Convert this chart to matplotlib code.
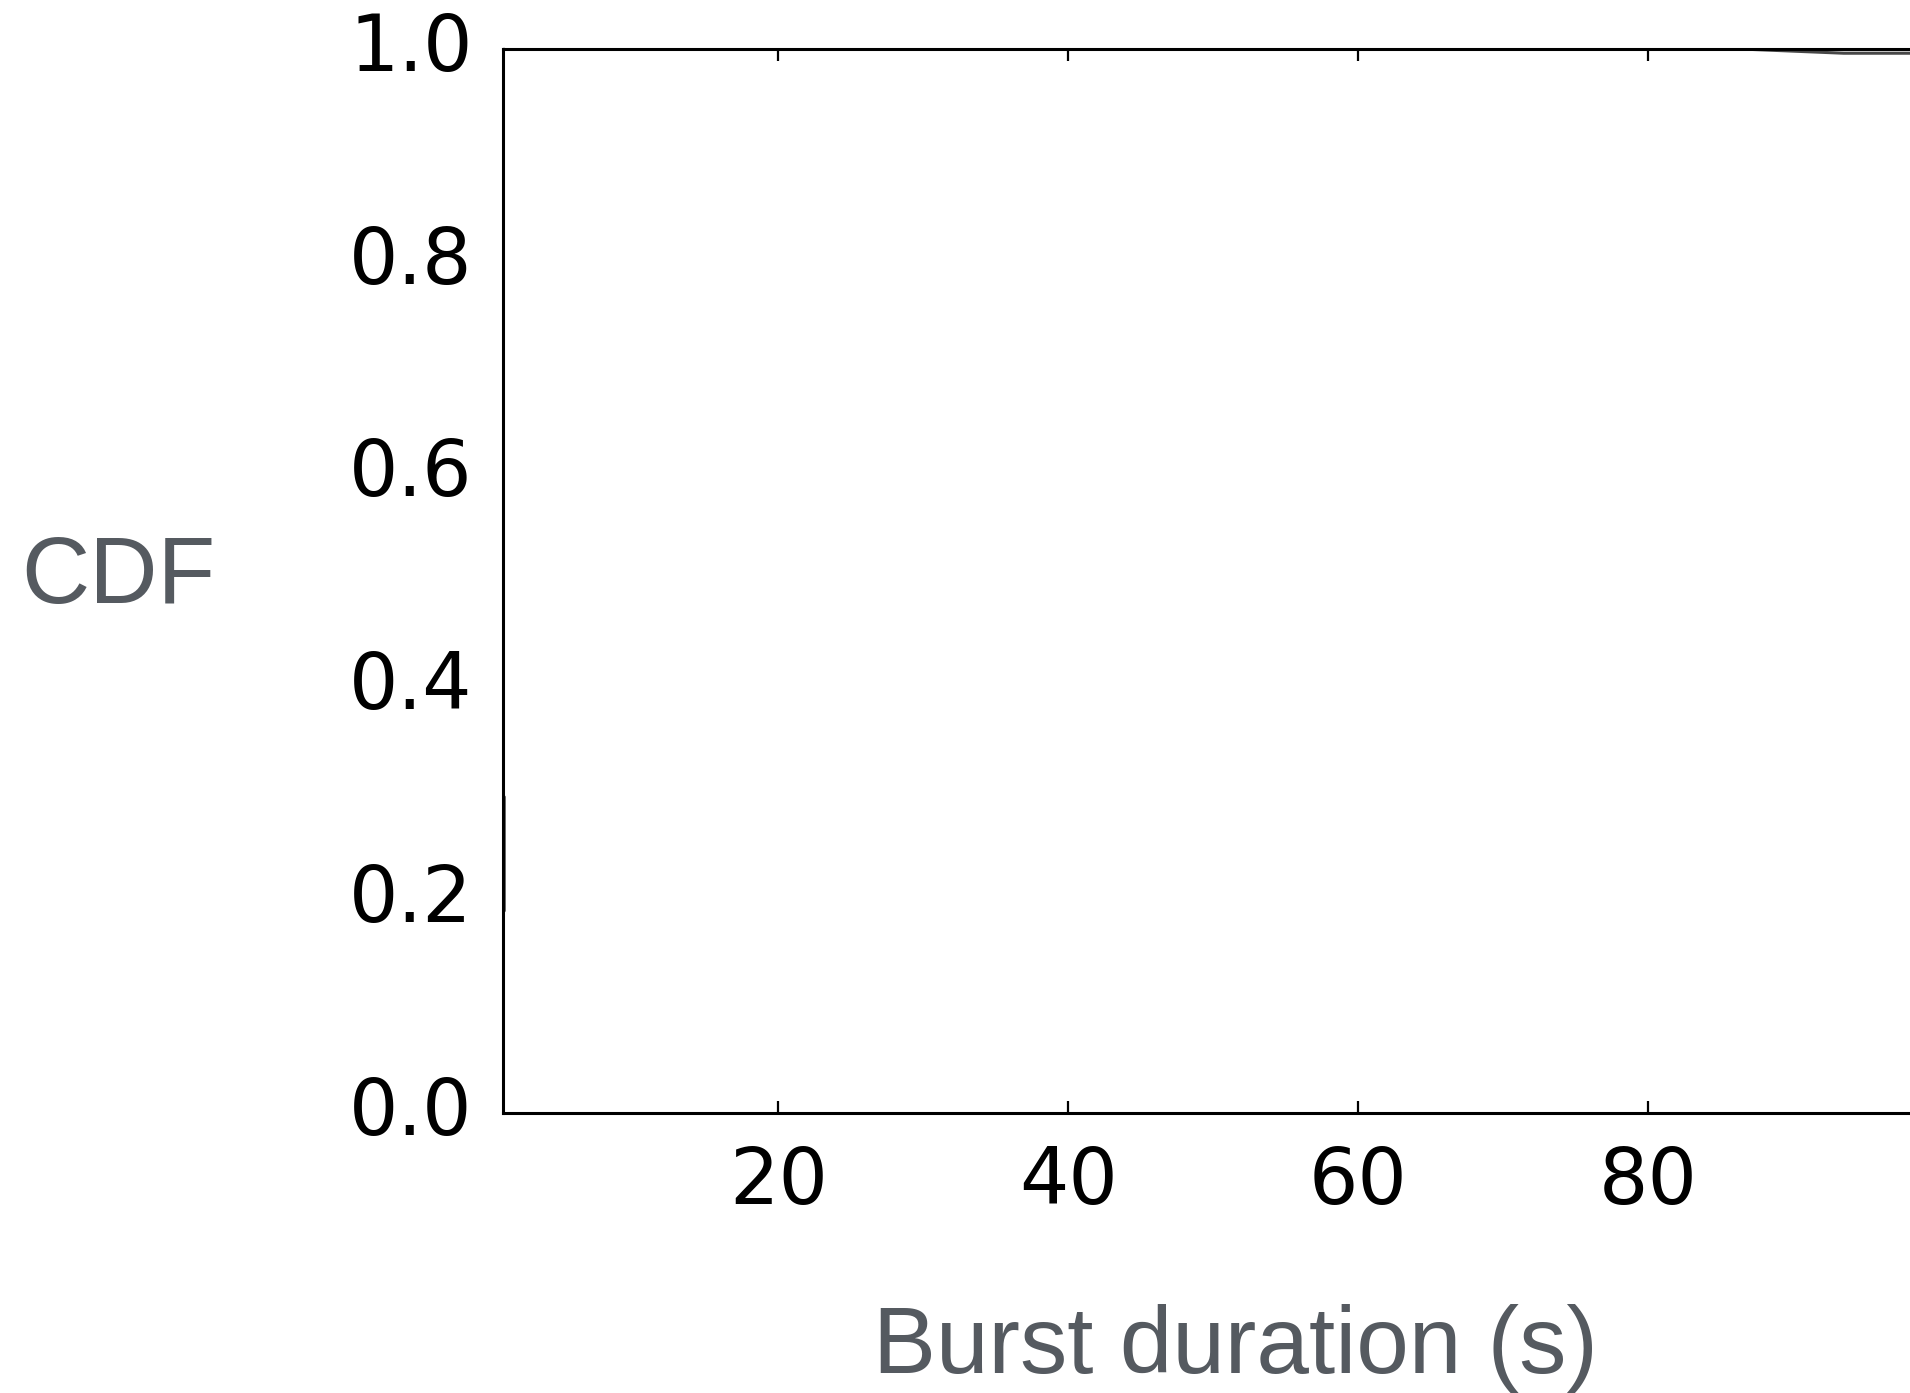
import matplotlib
matplotlib.use("Agg")
import matplotlib.pyplot as plt

# CDF of burst duration
burst_duration = [1.0, 1.0, 1.08, 1.08, 1.0, 1.0, 86.0, 93.5, 130.0]
cdf_value = [0.0, 0.19, 0.19, 0.297, 0.297, 1.0, 1.0, 0.9958, 0.9958]

x_ticks = [20, 40, 60, 80]
y_ticks = [0.0, 0.2, 0.4, 0.6, 0.8, 1.0]
y_tick_labels = ["0.0", "0.2", "0.4", "0.6", "0.8", "1.0"]

label_color = "#555a60"


def plot_cdf():
    plt.style.use("classic")
    fig = plt.figure(figsize=(9.55, 6.965), dpi=200, facecolor="white")
    # axes runs off the right edge, like the cropped original
    ax = fig.add_axes([0.2634, 0.201, 0.7513, 0.764])
    ax.set_facecolor("white")

    ax.plot(burst_duration, cdf_value, color="#474747", linewidth=1.1)

    ax.set_xlim(1, 100)
    ax.set_ylim(0, 1)
    ax.set_xticks(x_ticks)
    ax.set_yticks(y_ticks)
    ax.set_yticklabels(y_tick_labels)

    for side in ax.spines.values():
        side.set_linewidth(1.1)

    ax.tick_params(axis="both", which="major", direction="in", width=0.8,
                   labelsize=28, colors="black")
    ax.tick_params(axis="x", pad=11, top=True, length=4.3)
    ax.tick_params(axis="y", pad=11, right=True, length=0.8)
    for lbl in ax.get_xticklabels() + ax.get_yticklabels():
        lbl.set_family("DejaVu Sans")

    # axis titles placed in figure coordinates
    fig.text(0.6466, 0.0144, "Burst duration (s)", family="Liberation Sans",
             fontsize=34, color=label_color, ha="center", va="baseline")
    fig.text(0.011, 0.567, "CDF", family="Liberation Sans",
             fontsize=34, color=label_color, ha="left", va="baseline")

    fig.savefig("out.png", dpi=200, facecolor="white")


if __name__ == "__main__":
    plot_cdf()
